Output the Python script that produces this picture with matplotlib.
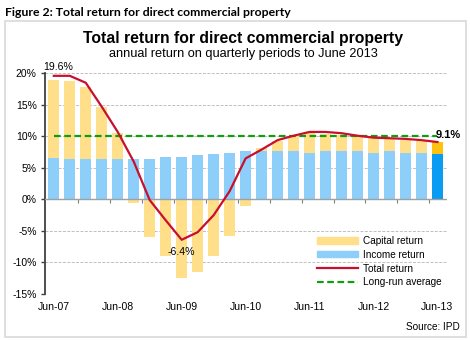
import matplotlib
matplotlib.use("Agg")
import matplotlib.pyplot as plt
from matplotlib.patches import Rectangle, Patch
from matplotlib.lines import Line2D
import numpy as np

plt.rcParams['font.family'] = ['Liberation Sans', 'DejaVu Sans']

# quarterly data, Jun-07 .. Jun-13
income = [6.6, 6.45, 6.45, 6.45, 6.45, 6.45, 6.45, 6.65, 6.8, 7.0, 7.2, 7.4,
          7.65, 7.65, 7.65, 7.65, 7.35, 7.65, 7.65, 7.65, 7.35, 7.6, 7.4, 7.4, 7.2]
capital = [12.3, 12.35, 11.45, 8.15, 4.15, -0.6, -5.9, -9.0, -12.4, -11.5, -9.0, -5.8,
           -1.0, 0.45, 1.6, 2.4, 3.15, 2.75, 2.55, 2.4, 2.45, 2.0, 2.0, 1.85, 1.9]
total = [19.6, 19.6, 18.5, 14.7, 10.7, 6.0, -0.1, -3.3, -6.4, -5.2, -2.5, 1.3,
         6.5, 7.9, 9.4, 10.1, 10.7, 10.7, 10.5, 10.1, 9.8, 9.7, 9.6, 9.4, 9.1]
long_run = 10.0
tick_labels = ['Jun-07', 'Jun-08', 'Jun-09', 'Jun-10', 'Jun-11', 'Jun-12', 'Jun-13']

n = len(income)
x = np.arange(n)
inc = np.array(income)
cap = np.array(capital)
cap_bottom = np.where(cap > 0, inc, 0)

inc_col = ['#8DCFFA'] * n
cap_col = ['#FFDF8A'] * n
inc_col[-1] = '#0A9BF2'
cap_col[-1] = '#FFC20E'

fig = plt.figure(figsize=(4.7, 3.4), dpi=100)
fig.patches.append(Rectangle((5 / 470, 1 - 337 / 340), 461 / 470, 316 / 340,
                             transform=fig.transFigure, fill=False,
                             edgecolor='#D9D9D9', linewidth=1.2))
fig.text(5 / 470, 1 - 12 / 340, 'Figure 2: Total return for direct commercial property',
         family=['Lato', 'DejaVu Sans'], fontweight='bold', fontsize=8.8, va='center')
fig.text(243 / 470, 1 - 38 / 340, 'Total return for direct commercial property',
         fontweight='bold', fontsize=11.3, ha='center', va='center')
fig.text(243 / 470, 1 - 53.5 / 340, 'annual return on quarterly periods to June 2013',
         fontsize=9.2, ha='center', va='center')

ax = fig.add_axes([45 / 470, 1 - 294 / 340, 402 / 470, 220.7 / 340])
ax.bar(x, inc, width=0.68, color=inc_col, zorder=2)
ax.bar(x, cap, width=0.68, bottom=cap_bottom, color=cap_col, zorder=2)
ax.plot(x, total, color='#C8102E', linewidth=1.6, zorder=4)
ax.plot(x, [long_run] * n, color='#139B13', linewidth=1.6, linestyle=(0, (3, 1.6)), zorder=3)

ax.set_xlim(-0.55, 24.6)
ax.set_ylim(-15, 20)
ax.set_yticks(range(-15, 21, 5))
ax.set_yticklabels([f'{v}%' for v in range(-15, 21, 5)], fontsize=7.5)
ax.yaxis.grid(True, color='#C0C0C0', linestyle=(0, (3, 1.5)), linewidth=0.7)
ax.set_axisbelow(True)
ax.axhline(0, color='#A0A0A0', linewidth=1.0, zorder=3)
for s in ['top', 'right', 'bottom']:
    ax.spines[s].set_visible(False)
ax.spines['left'].set_color('#404040')
ax.spines['left'].set_linewidth(1.3)
ax.tick_params(axis='y', length=3, width=1, color='#404040', pad=3)

ax.set_xticks(x[::4])
ax.set_xticklabels(tick_labels, fontsize=7.6)
ax.tick_params(axis='x', length=0, pad=6)

sec = ax.secondary_xaxis(15 / 35)
sec.set_xticks(np.arange(1.5, n - 0.5, 2))
sec.set_xticklabels([])
sec.spines['bottom'].set_visible(False)
sec.tick_params(axis='x', length=3, width=0.8, color='#808080', direction='out')

ax.text(0.25, total[0] + 0.6, f'{total[0]}%', fontsize=7.6, ha='center', va='bottom')
ax.text(8, total[8] - 1.2, f'{total[8]}%', fontsize=7.6, ha='center', va='top')
ax.text(24.7, total[-1] + 0.4, f'{total[-1]}%', fontsize=8, fontweight='bold',
        ha='center', va='bottom', clip_on=False)

handles = [Patch(color='#FFDF8A', label='Capital return'),
           Patch(color='#8DCFFA', label='Income return'),
           Line2D([], [], color='#C8102E', linewidth=1.6, label='Total return'),
           Line2D([], [], color='#139B13', linewidth=1.6, linestyle=(0, (3, 1.6)),
                  label='Long-run average')]
fig.legend(handles=handles, loc='upper left', bbox_to_anchor=(317 / 470, 1 - 236 / 340),
           frameon=False, fontsize=7.2, handlelength=4.1, handleheight=0.6,
           labelspacing=0.38, borderpad=0, borderaxespad=0, handletextpad=0.5)

fig.text(460 / 470, 1 - 327 / 340, 'Source: IPD', fontsize=7.2, ha='right', va='center')

plt.savefig('out.png', dpi=100)
